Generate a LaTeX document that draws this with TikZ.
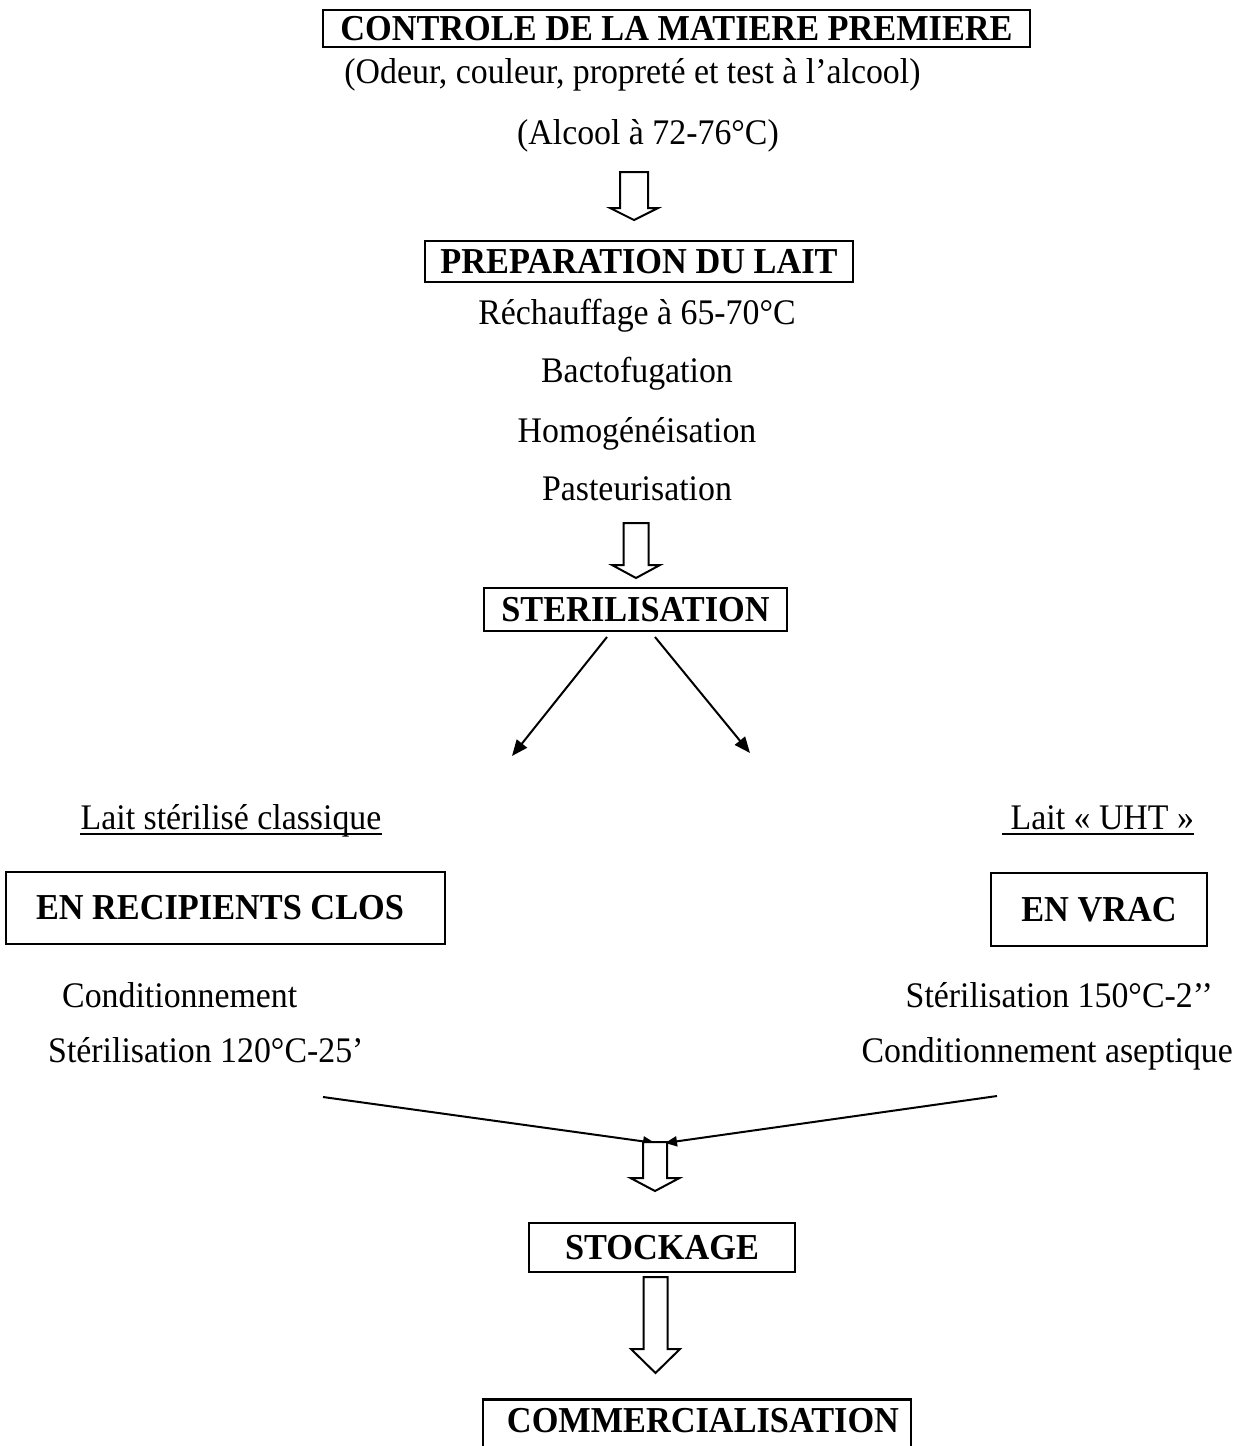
\documentclass[tikz,border=0pt]{standalone}
\usepackage{fontspec}
\setmainfont{Liberation Serif}[FakeStretch=0.94]
\usetikzlibrary{arrows.meta}

\newcommand\bodyfont{\fontsize{36}{42}\selectfont}
\newcommand\headfont{\fontsize{36.5}{42}\selectfont\bfseries}

% hollow block arrow: x, top of shaft, base of head, tip, half shaft width, half head width
\newcommand\fatarrow[6]{%
  \draw[hollow] (#1-#5,#2) -- (#1+#5,#2) -- (#1+#5,#3) -- (#1+#6,#3)
    -- (#1,#4) -- (#1-#6,#3) -- (#1-#5,#3) -- cycle;}

\begin{document}
\begin{tikzpicture}[x=1pt,y=-1pt,
  box/.style={draw, line width=2.8pt, rectangle, inner sep=0pt, font=\headfont},
  txt/.style={inner sep=0pt, anchor=base, font=\bodyfont},
  flow/.style={line width=2pt, -{Triangle[length=16pt,width=13pt]}},
  merge/.style={line width=2pt, -{Triangle[length=12pt,width=10pt]}},
  hollow/.style={draw, line width=2pt, fill=white, line join=miter},
  ul/.style={line width=1.8pt}]

\clip (0,0) rectangle (1234,1446);
\fill[white] (0,0) rectangle (1234,1446);

% raw material control
\node[box, minimum width=707pt, minimum height=37pt] (ctrl) at (676.5,28.5)
  {CONTROLE DE LA MATIERE PREMIERE};
\node[txt] (crit) at (632.5,83) {(Odeur, couleur, propreté et test à l’alcool)};
\node[txt] (alc) at (648,144) {(Alcool à 72-76°C)};
\fatarrow{634}{172}{208}{220}{14}{24}

% milk preparation
\node[box, minimum width=428pt, minimum height=41pt] (prep) at (639,261.5)
  {PREPARATION DU LAIT};
\node[txt] (rech) at (637,324) {Réchauffage à 65-70°C};
\node[txt] (bact) at (637,382) {Bactofugation};
\node[txt] (homo) at (637,442) {Homogénéisation};
\node[txt] (past) at (637,500) {Pasteurisation};
\fatarrow{636}{523}{565}{578}{12.5}{24}

% sterilisation and its two branches
\node[box, minimum width=303pt, minimum height=43pt] (steril) at (635.5,609.5)
  {STERILISATION};
\coordinate (sL) at (607,637);
\coordinate (eL) at (512,756);
\coordinate (sR) at (655,637);
\coordinate (eR) at (750,753);
\draw[flow] (sL) -- (eL);
\draw[flow] (sR) -- (eR);

\node[txt] (lsc) at (231,829) {Lait stérilisé classique};
\draw[ul] ([yshift=-5pt]lsc.base west) -- ([yshift=-5pt]lsc.base east);
\node[txt] (uht) at (1098,829) {\hspace*{8.6pt}Lait « UHT »};
\draw[ul] ([yshift=-5pt]uht.base west) -- ([yshift=-5pt]uht.base east);

\node[box, minimum width=439pt, minimum height=72pt] (recip) at (225.5,908)
  {EN RECIPIENTS CLOS\hspace*{11pt}};
\node[box, minimum width=216pt, minimum height=73pt] (vrac) at (1099,909.5)
  {EN VRAC};

\node[txt, anchor=base west] (condL) at (62,1007) {Conditionnement};
\node[txt, anchor=base west] (sterL) at (48,1062) {Stérilisation 120°C-25’};
\node[txt, anchor=base east] (sterR) at (1213,1007) {Stérilisation 150°C-2’’};
\node[txt, anchor=base east] (condR) at (1233,1062) {Conditionnement aseptique};

% both branches converge
\coordinate (mL) at (323,1097);
\coordinate (jL) at (655,1143);
\coordinate (mR) at (997,1096);
\coordinate (jR) at (665,1143);
\draw[merge] (mL) -- (jL);
\draw[merge] (mR) -- (jR);
\fatarrow{655}{1142}{1178}{1191}{12}{24.5}

% storage and sale
\node[box, minimum width=266pt, minimum height=49pt] (stock) at (662,1247.5)
  {STOCKAGE};
\fatarrow{655.5}{1277}{1349}{1373}{12}{24.5}
\node[box, anchor=north, minimum width=428pt, text height=33pt, text depth=37pt] (comm)
  at (697,1398) {\hspace*{12pt}COMMERCIALISATION};

\end{tikzpicture}
\end{document}
